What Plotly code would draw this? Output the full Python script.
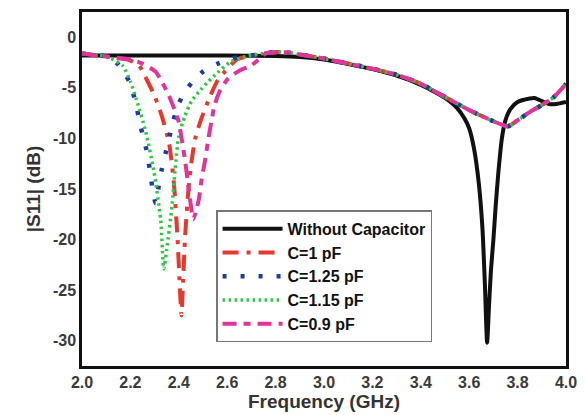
import plotly.graph_objects as go

# ---- data ----
tail_f = [2.8, 2.85, 2.9, 3.0, 3.1, 3.2, 3.3, 3.4, 3.5, 3.6, 3.7, 3.76, 3.8, 3.85, 3.9, 3.95, 4.0]
tail_v = [-1.45, -1.5, -1.7, -2.1, -2.6, -3.1, -3.7, -4.6, -5.9, -7.2, -8.3, -8.8, -8.2, -7.4, -6.7, -5.9, -4.6]

f_nocap = [2.0, 2.2, 2.4, 2.6, 2.8, 2.9, 3.0, 3.1, 3.2, 3.3, 3.4, 3.45, 3.5, 3.55, 3.58, 3.6, 3.62, 3.64,
           3.655, 3.665, 3.674, 3.682, 3.69, 3.7, 3.71, 3.72, 3.735, 3.75, 3.77, 3.8, 3.85, 3.87, 3.9, 3.93,
           3.96, 4.0]
s_nocap = [-1.8, -1.8, -1.8, -1.8, -1.85, -1.95, -2.2, -2.65, -3.15, -3.8, -4.7, -5.3, -6.0, -7.0, -8.0, -9.0,
           -11.0, -14.5, -19.0, -24.5, -30.2, -26.5, -23.0, -20.0, -16.5, -13.5, -10.0, -8.2, -7.1, -6.4,
           -6.05, -6.0, -6.3, -6.6, -6.6, -6.4]

f_c1 = [2.0, 2.1, 2.2, 2.236, 2.27, 2.3, 2.33, 2.36, 2.38, 2.395, 2.405, 2.411, 2.418, 2.426, 2.44, 2.453,
        2.47, 2.494, 2.53, 2.56, 2.59, 2.64, 2.7, 2.75] + tail_f
s_c1 = [-1.6, -1.9, -2.3, -2.8, -4.3, -5.8, -7.8, -10.5, -14.5, -20.0, -25.0, -27.5, -24.0, -19.7, -15.0, -12.2,
        -9.8, -8.0, -5.8, -4.3, -3.4, -2.2, -1.8, -1.6] + tail_v

f_c125 = [2.0, 2.1, 2.121, 2.15, 2.196, 2.22, 2.243, 2.27, 2.284, 2.295, 2.304, 2.315, 2.33, 2.345, 2.37,
          2.392, 2.42, 2.453, 2.5, 2.562, 2.62, 2.7, 2.75] + tail_f
s_c125 = [-1.6, -1.9, -2.1, -2.7, -4.4, -6.3, -8.9, -11.5, -13.8, -15.5, -16.4, -15.0, -13.0, -11.5, -9.0,
          -7.0, -5.6, -4.5, -3.4, -2.6, -2.1, -1.8, -1.6] + tail_v

f_c115 = [2.0, 2.1, 2.168, 2.2, 2.223, 2.263, 2.297, 2.325, 2.338, 2.35, 2.372, 2.385, 2.399, 2.425, 2.453,
          2.49, 2.521, 2.56, 2.616, 2.68, 2.75] + tail_f
s_c115 = [-1.6, -1.9, -2.8, -4.4, -6.0, -9.3, -13.2, -18.0, -22.9, -21.0, -16.7, -13.0, -9.9, -7.8, -6.3,
          -5.2, -4.4, -3.5, -2.4, -1.9, -1.6] + tail_v

f_c09 = [2.0, 2.1, 2.2, 2.25, 2.304, 2.33, 2.358, 2.38, 2.399, 2.415, 2.426, 2.44, 2.452, 2.46, 2.47, 2.483,
         2.494, 2.51, 2.521, 2.535, 2.548, 2.57, 2.603, 2.65, 2.698, 2.73, 2.76] + tail_f[1:]
s_c09 = [-1.6, -1.9, -2.2, -2.6, -3.4, -4.4, -5.7, -7.0, -8.3, -10.5, -12.2, -14.8, -17.0, -18.0, -17.3, -16.0,
         -14.1, -12.0, -10.2, -8.3, -6.7, -5.3, -4.1, -3.3, -2.8, -2.2, -1.6] + tail_v[1:]

x_ticks = [2.0, 2.2, 2.4, 2.6, 2.8, 3.0, 3.2, 3.4, 3.6, 3.8, 4.0]
y_ticks = [0, -5, -10, -15, -20, -25, -30]

series = [
    ("Without Capacitor", f_nocap, s_nocap, "#111111", "solid", 4),
    ("C=1 pF", f_c1, s_c1, "#e8372c", "16px,8px,4px,8px", 4),
    ("C=1.25 pF", f_c125, s_c125, "#1f3b9e", "4px,14px", 4.5),
    ("C=1.15 pF", f_c115, s_c115, "#2fc845", "2.5px,3.5px", 3.5),
    ("C=0.9 pF", f_c09, s_c09, "#e2339c", "14px,7px,7px,7px", 4),
]

fig = go.Figure()
for name, fx, sy, col, dash, w in series:
    fig.add_trace(go.Scatter(x=fx, y=sy, mode="lines", name=name,
                             line=dict(color=col, dash=dash, width=w, shape="spline", smoothing=0.6)))

fig.update_layout(
    width=586, height=415,
    margin=dict(l=82, r=13, t=9, b=48),
    paper_bgcolor="white", plot_bgcolor="white",
    font=dict(family="Liberation Sans, Arial, sans-serif", color="#333333"),
    legend=dict(x=0.277, y=0.44, xanchor="left", yanchor="top",
                bgcolor="white", bordercolor="#777777", borderwidth=1.5,
                font=dict(size=16, color="#111111", weight="bold"),
                itemwidth=60, tracegroupgap=0),
    showlegend=True,
)
fig.update_xaxes(range=[2.0, 4.0], tickvals=x_ticks, ticktext=[f"{v:.1f}" for v in x_ticks],
                 showgrid=False, zeroline=False, showline=True, linecolor="#111111", linewidth=2.5,
                 mirror=True, ticks="", tickfont=dict(size=16, weight="bold", color="#3a3a3a"),
                 title=dict(text="Frequency (GHz)", font=dict(size=19, weight="bold", color="#333333"),
                            standoff=2))
fig.update_yaxes(range=[-32.5, 2.5], tickvals=y_ticks, ticktext=[str(v) for v in y_ticks],
                 showgrid=False, zeroline=False, showline=True, linecolor="#111111", linewidth=2.5,
                 mirror=True, ticks="", tickfont=dict(size=16, weight="bold", color="#3a3a3a"),
                 title=dict(text="|S11| (dB)", font=dict(size=19, weight="bold", color="#333333"),
                            standoff=8))

fig.write_html("out.html")
